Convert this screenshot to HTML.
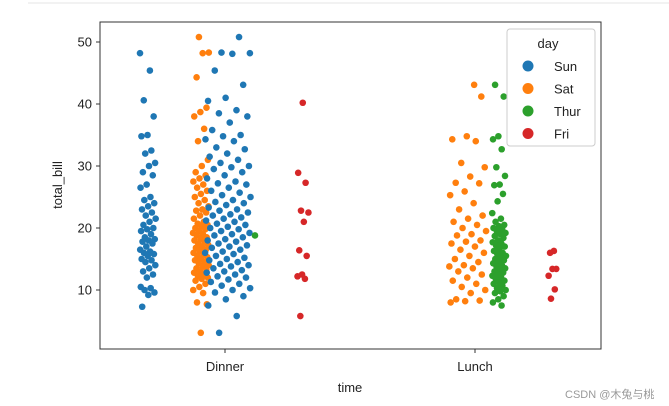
<!DOCTYPE html>
<html><head><meta charset="utf-8"><style>
body{margin:0;background:#fff;width:669px;height:406px;overflow:hidden;font-family:"Liberation Sans","Noto Sans CJK SC",sans-serif}
svg{display:block}
text{font-family:"Liberation Sans","Noto Sans CJK SC",sans-serif}
</style></head><body>
<svg id="chart" width="669" height="406" viewBox="0 0 669 406">
<line x1="28" y1="3" x2="669" y2="3" stroke="#e4e4e4" stroke-width="1"/>
<g id="points"></g>
<rect x="100" y="22" width="501" height="327" fill="none" stroke="#333" stroke-width="1"/>
<g id="yaxis"></g>
<g id="xaxis"></g>
<text x="350" y="392" font-size="13" text-anchor="middle" fill="#222">time</text>
<text x="62" y="185" font-size="13" text-anchor="middle" fill="#222" transform="rotate(-90 62 185)">total_bill</text>
<g>
<rect x="507" y="29" width="88" height="117" rx="3" fill="#fff" fill-opacity="0.85" stroke="#ccc"/>
<text x="548" y="48" font-size="13" text-anchor="middle" fill="#222">day</text>
<g id="legend-entries"></g>
</g>
<text x="565" y="398" font-size="11" fill="#999">CSDN @木兔与桃</text>
</svg>
<script>
const categories=["Dinner","Lunch"];
const yTicks=[10,20,30,40,50];
const days=["Sun","Sat","Thur","Fri"];
const colors=["#1f77b4","#ff7f0e","#2ca02c","#d62728"];
const dinnerSunA=[48.2,45.4,40.6,38,35,34.8,32.5,32,30.5,30,29,28.5,27,26.5,25,24.5,24,23.5,23,22.5,22,21.5,21,20.5,20,19.8,19.5,19,18.5,18.2,18,17.8,17.5,17,16.5,16.2,16,15.8,15.5,15,14.8,14.5,14,13.5,13,12.5,12,10.5,10.3,10,9.6,9.2,7.3];
const dinnerSat=[50.8,48.3,48.2,44.3,39.4,38.7,38,36,34,31,30,29,28.5,28,27.5,27,26.5,26,25.5,25,24.5,24,23.5,23,22.8,22.5,22,21.5,21,20.7,20.5,20.3,20,19.8,19.5,19.2,19,18.8,18.5,18.3,18,17.8,17.5,17.3,17,16.8,16.5,16.3,16,15.8,15.5,15.3,15,14.8,14.5,14.3,14,13.8,13.5,13.3,13,12.8,12.5,12.3,12,11.8,11.5,11,10.5,10,9.5,8,7.7,3.1];
const dinnerSunB=[50.8,48.3,48.2,48.1,45.4,43.1,41,40.5,39,38.5,38,37,35.8,35,34.8,34.3,34,33,32.7,32,31.5,31,30.5,30,29.8,29.5,29,28.5,28,27.5,27.2,27,26.5,26,25.7,25.3,25,24.5,24.2,24,23.7,23.3,23,22.8,22.5,22.2,22,21.7,21.5,21.2,21,20.7,20.5,20.2,20,19.8,19.5,19.2,19,18.8,18.5,18.2,18,17.8,17.5,17.2,17,16.8,16.5,16.2,16,15.8,15.5,15.2,15,14.8,14.5,14.2,14,13.8,13.5,13.2,13,12.8,12.5,12.2,12,11.7,11.3,11,10.7,10.3,10,9.6,9,8.5,7.5,5.8,3.1];
const dinnerThur=[18.8];
const dinnerFri=[40.2,28.9,27.3,22.8,22.5,21,16.4,15.5,12.5,12.2,11.8,5.8];
const lunchSat=[41.2,34.8,34.3,34,30.5,29.8,28.3,27.3,27.2,25.9,25.3,24,23,22,21.5,21,20.5,20,19.5,19,18.8,18,17.8,17.5,17,16.5,16,15.5,15,14.5,14,13.8,13.5,13,12.5,12,11.5,11,10.5,10,9.5,8.5,8.3,8.2,8,43.1];
const lunchThur=[43.1,41.2,34.8,34.3,32.7,29.8,28.4,27,26.9,25.5,24.3,22.4,21.5,21,20.5,20.3,20,19.8,19.5,19.2,19,18.7,18.4,18,17.7,17.5,17.2,17,16.6,16.3,16,15.8,15.5,15.3,15,14.8,14.5,14.3,14,13.8,13.5,13.3,13,12.8,12.5,12.3,12,11.8,11.5,11.2,11,10.7,10.3,10,9.8,9.5,9,8.5,8,7.5];
const lunchFri=[16.3,16,13.4,13.4,12.3,10.1,8.6];

const NS="http://www.w3.org/2000/svg";
function yScale(v){return 290-(v-10)*6.2;}
function xScale(c){return 225+categories.indexOf(c)*250;}
// groups: [values, category, dayIndex, offset px, jitter half-width px]
const groups=[
 [dinnerSunA,"Dinner",0,-77,8],
 [dinnerSat,"Dinner",1,-24,8],
 [dinnerSunB,"Dinner",0,3,23],
 [dinnerThur,"Dinner",2,30,0],
 [dinnerFri,"Dinner",3,78,6],
 [lunchSat,"Lunch",1,-7,19],
 [lunchThur,"Lunch",2,24,7],
 [lunchFri,"Lunch",3,78,5]
];
const pg=document.getElementById("points");
groups.forEach((g,gi)=>{
 g[0].forEach((v,i)=>{
  const j=((i*0.6180339+gi*0.37)%1)*2-1;
  const c=document.createElementNS(NS,"circle");
  c.setAttribute("cx",xScale(g[1])+g[3]+j*g[4]);
  c.setAttribute("cy",yScale(v));
  c.setAttribute("r",3.3);
  c.setAttribute("fill",colors[g[2]]);
  
  
  pg.appendChild(c);
 });
});
const ya=document.getElementById("yaxis");
yTicks.forEach(t=>{
 const l=document.createElementNS(NS,"line");
 l.setAttribute("x1",96);l.setAttribute("x2",100);
 l.setAttribute("y1",yScale(t));l.setAttribute("y2",yScale(t));
 l.setAttribute("stroke","#333");
 
 
 ya.appendChild(l);
 const tx=document.createElementNS(NS,"text");
 tx.setAttribute("x",92);tx.setAttribute("y",yScale(t)+4.5);
 tx.setAttribute("font-size","13");tx.setAttribute("text-anchor","end");tx.setAttribute("fill","#222");
 tx.textContent=t;
 
 
 ya.appendChild(tx);
});
const xa=document.getElementById("xaxis");
categories.forEach(c=>{
 const l=document.createElementNS(NS,"line");
 l.setAttribute("x1",xScale(c));l.setAttribute("x2",xScale(c));
 l.setAttribute("y1",349);l.setAttribute("y2",353);l.setAttribute("stroke","#333");
 
 
 xa.appendChild(l);
 const tx=document.createElementNS(NS,"text");
 tx.setAttribute("x",xScale(c));tx.setAttribute("y",371);
 tx.setAttribute("font-size","13");tx.setAttribute("text-anchor","middle");tx.setAttribute("fill","#222");
 tx.textContent=c;
 
 
 xa.appendChild(tx);
});
const le=document.getElementById("legend-entries");
days.forEach((d,i)=>{
 const y=66+i*22.5;
 const c=document.createElementNS(NS,"circle");
 c.setAttribute("cx",528);c.setAttribute("cy",y);c.setAttribute("r",5.5);c.setAttribute("fill",colors[i]);
 
 
 le.appendChild(c);
 const t=document.createElementNS(NS,"text");
 t.setAttribute("x",554);t.setAttribute("y",y+5);t.setAttribute("font-size","13");t.setAttribute("fill","#222");
 t.textContent=d;
 
 
 le.appendChild(t);
});
</script>
</body></html>
